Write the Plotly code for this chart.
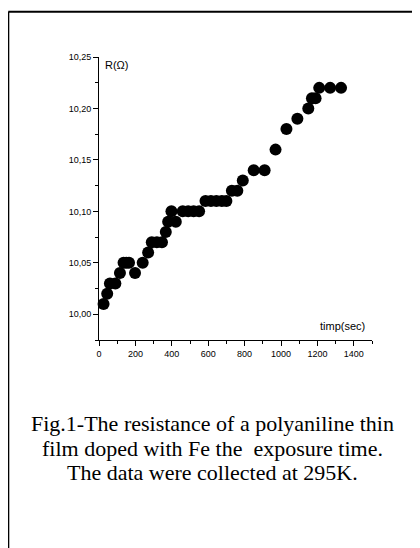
import plotly.graph_objects as go

# Data
time_sec = [25, 45, 60, 90, 115, 135, 150, 165, 198, 240, 270, 290, 318, 346,
            367, 380, 398, 422, 460, 490, 520, 550, 585, 615, 645, 675, 700,
            730, 760, 790, 850, 910, 970, 1030, 1090, 1150, 1170, 1190, 1210,
            1270, 1330]
resistance = [10.01, 10.02, 10.03, 10.03, 10.04, 10.05, 10.05, 10.05, 10.04,
              10.05, 10.06, 10.07, 10.07, 10.07, 10.08, 10.09, 10.10, 10.09,
              10.10, 10.10, 10.10, 10.10, 10.11, 10.11, 10.11, 10.11, 10.11,
              10.12, 10.12, 10.13, 10.14, 10.14, 10.16, 10.18, 10.19, 10.20,
              10.21, 10.21, 10.22, 10.22, 10.22]

x_tickvals = [0, 200, 400, 600, 800, 1000, 1200, 1400]
x_ticktext = ["0", "200", "400", "600", "800", "1000", "1200", "1400"]
x_minorvals = [100, 300, 500, 700, 900, 1100, 1300, 1500]
y_tickvals = [10.00, 10.05, 10.10, 10.15, 10.20, 10.25]
y_ticktext = ["10,00", "10,05", "10,10", "10,15", "10,20", "10,25"]
y_minorvals = [9.975, 10.025, 10.075, 10.125, 10.175, 10.225]

caption_lines = [
    "Fig.1-The resistance of a polyaniline thin",
    "film doped with Fe the\u00a0 exposure time.",
    "The data were collected at 295K.",
]

# page offset (browser body margin) compensation
OFF = 8
W, H = 420 - OFF, 548 - OFF
PL, PR, PT, PB = 99.3, 372.3, 56.7, 340  # plot area in window pixels
L = round(PL - OFF)
T = round(PT - OFF)
R = W - round(PR - OFF)
B = H - round(PB - OFF)
pw, ph = W - L - R, H - T - B


def px2paper_x(px):
    return (px - OFF - L) / pw


def px2paper_y(py):
    return (H - B - (py - OFF)) / ph


fig = go.Figure()
fig.add_trace(go.Scatter(
    x=time_sec, y=resistance, mode="markers",
    marker=dict(color="black", size=12, line=dict(width=0)),
    cliponaxis=False, showlegend=False,
))

axis_common = dict(
    showline=True, linecolor="black", linewidth=1, mirror=False,
    showgrid=False, zeroline=False, ticks="outside", ticklen=5,
    tickwidth=1, tickcolor="black",
    tickfont=dict(family="Liberation Sans, Arial", size=9, color="black"),
)

fig.update_xaxes(
    range=[0, 1500], tickmode="array", tickvals=x_tickvals,
    ticktext=x_ticktext,
    minor=dict(tickmode="array", tickvals=x_minorvals, ticks="outside",
               ticklen=3, tickwidth=1, tickcolor="black"),
    **axis_common,
)
fig.update_yaxes(
    range=[9.975, 10.25], tickmode="array", tickvals=y_tickvals,
    ticktext=y_ticktext,
    minor=dict(tickmode="array", tickvals=y_minorvals, ticks="outside",
               ticklen=3, tickwidth=1, tickcolor="black"),
    **axis_common,
)

annotations = [
    dict(text="R(\u03a9)", xref="paper", yref="paper",
         x=px2paper_x(103), y=px2paper_y(65), xanchor="left",
         yanchor="middle", showarrow=False,
         font=dict(family="Liberation Sans, Arial", size=11, color="black")),
    dict(text="timp(sec)", xref="paper", yref="paper",
         x=px2paper_x(318), y=px2paper_y(326), xanchor="left",
         yanchor="middle", showarrow=False,
         font=dict(family="Liberation Sans, Arial", size=11, color="black")),
]
for i, line in enumerate(caption_lines):
    annotations.append(dict(
        text=line, xref="paper", yref="paper",
        x=px2paper_x(212), y=px2paper_y(424 + 24 * i),
        xanchor="center", yanchor="middle", showarrow=False,
        font=dict(family="Liberation Serif, Times New Roman", size=22,
                  color="black")))

shapes = [
    dict(type="line", xref="paper", yref="paper",
         x0=px2paper_x(8.3), x1=px2paper_x(440),
         y0=px2paper_y(11.8), y1=px2paper_y(11.8),
         line=dict(color="black", width=2)),
    dict(type="line", xref="paper", yref="paper",
         x0=px2paper_x(8.3), x1=px2paper_x(8.3),
         y0=px2paper_y(11.8), y1=px2paper_y(570),
         line=dict(color="black", width=2)),
]

fig.update_layout(
    width=W, height=H,
    margin=dict(l=L, r=R, t=T, b=B, pad=0),
    paper_bgcolor="white", plot_bgcolor="white",
    annotations=annotations, shapes=shapes,
    showlegend=False,
)

fig.write_html("out.html")
